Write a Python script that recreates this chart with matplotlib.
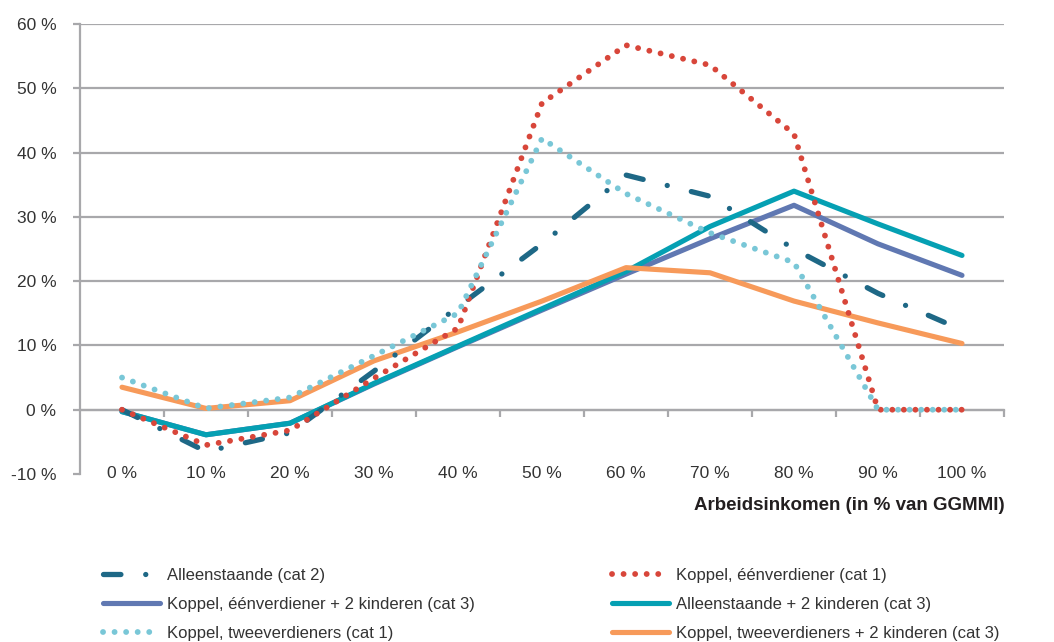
import matplotlib
matplotlib.use('Agg')
import matplotlib.pyplot as plt
from matplotlib.lines import Line2D

plt.rcParams['font.family'] = ['Liberation Sans', 'DejaVu Sans']

# ---------------- data ----------------
categories = ['0 %', '10 %', '20 %', '30 %', '40 %', '50 %',
              '60 %', '70 %', '80 %', '90 %', '100 %']
alleen_cat2 = [0.0, -6.5, -3.6, 6.0, 16.0, 25.8, 36.5, 33.2, 25.0, 18.1, 12.4]
een_cat1 = [0.0, -5.5, -3.2, 4.9, 12.7, 47.7, 56.7, 53.6, 42.9, 0.0, 0.0]
een_kind_cat3 = [-0.3, -3.9, -2.1, 4.0, 9.8, 15.5, 21.1, 26.6, 31.8, 25.8, 20.9]
alleen_kind_cat3 = [-0.3, -3.9, -2.1, 4.1, 9.9, 15.7, 21.5, 28.5, 34.0, 28.9, 24.0]
twee_cat1 = [5.0, 0.2, 1.9, 8.4, 15.0, 42.2, 33.6, 27.5, 22.9, 0.0, 0.0]
twee_kind_cat3 = [3.5, 0.2, 1.4, 7.6, 12.1, 16.9, 22.1, 21.3, 16.9, 13.5, 10.3]

labels = ['Alleenstaande (cat 2)',
          'Koppel, éénverdiener (cat 1)',
          'Koppel, éénverdiener + 2 kinderen (cat 3)',
          'Alleenstaande + 2 kinderen (cat 3)',
          'Koppel, tweeverdieners (cat 1)',
          'Koppel, tweeverdieners + 2 kinderen (cat 3)']
y_ticks = [-10, 0, 10, 20, 30, 40, 50, 60]
x_title = 'Arbeidsinkomen (in % van GGMMI)'

# ---------------- style ----------------
DARK = '#1E6886'
RED = '#D8463A'
SLATE = '#6078B2'
TEAL = '#05A0B3'
LIGHT = '#79C7D7'
ORANGE = '#F79A5A'
GRID = '#A8A8AB'
TEXT = '#333333'

W, H = 1054, 642
fig = plt.figure(figsize=(W / 100, H / 100), dpi=100)
ax = fig.add_axes([80 / W, 1 - 474 / H, 924 / W, 450 / H])

x = list(range(len(categories)))

solid_kw = dict(lw=3.7, solid_capstyle='round', solid_joinstyle='round')
dot_kw = dict(lw=4.2, linestyle=(0, (0.01, 1.97)), dash_capstyle='round')

h_slate, = ax.plot(x, een_kind_cat3, color=SLATE, zorder=3, **solid_kw)
h_teal, = ax.plot(x, alleen_kind_cat3, color=TEAL, zorder=4, **solid_kw)
h_orange, = ax.plot(x, twee_kind_cat3, color=ORANGE, zorder=5, **solid_kw)
h_dark, = ax.plot(x, alleen_cat2, color=DARK, lw=3.8,
                  linestyle=(0, (3.3, 4.7, 0.01, 4.7)),
                  dash_capstyle='round', zorder=6)
h_red, = ax.plot(x, een_cat1, color=RED, zorder=7, **dot_kw)
h_light, = ax.plot(x, twee_cat1, color=LIGHT, zorder=8, **dot_kw)

ax.set_xlim(-0.5, len(categories) - 0.5)
ax.set_ylim(-10, 60)

for v in y_ticks:
    if v >= 0:
        ax.axhline(v, color=GRID, lw=1.6, zorder=1)

for s in ['top', 'right', 'bottom']:
    ax.spines[s].set_visible(False)
ax.spines['left'].set_color(GRID)
ax.spines['left'].set_linewidth(1.6)

ax.set_yticks(y_ticks)
ax.set_yticklabels([f'{v} %' for v in y_ticks])
ax.tick_params(axis='y', length=5, width=1.6, color=GRID, pad=12,
               labelsize=12.5, labelcolor=TEXT)

ax.set_xticks(x)
ax.set_xticklabels(categories)
ax.tick_params(axis='x', length=0, pad=-6, labelsize=12.5, labelcolor=TEXT)

# category boundary ticks on the zero line
loc0 = (0 - (-10)) / 70
sec = ax.secondary_xaxis(loc0)
sec.set_xticks([i + 0.5 for i in range(len(categories))])
sec.tick_params(length=5, width=1.6, color=GRID, labelbottom=False,
                labeltop=False, direction='out')
for sp in sec.spines.values():
    sp.set_color(GRID)
    sp.set_linewidth(1.6)

fig.text(1005 / W, 1 - 506 / H, x_title, ha='right', va='center',
         fontsize=13.5, fontweight='bold', color='#231F20')

leg_kw = dict(loc='upper left', frameon=False, borderpad=0, borderaxespad=0,
              handlelength=3.4, handletextpad=0.45, labelspacing=0.84,
              fontsize=12, labelcolor=TEXT)
fig.legend(handles=[h_dark, h_slate, h_light],
           labels=[labels[0], labels[2], labels[4]],
           bbox_to_anchor=(103 / W, 1 - 568 / H), **leg_kw)
fig.legend(handles=[h_red, h_teal, h_orange],
           labels=[labels[1], labels[3], labels[5]],
           bbox_to_anchor=(612 / W, 1 - 568 / H), **leg_kw)

fig.savefig('out.png', dpi=100)
